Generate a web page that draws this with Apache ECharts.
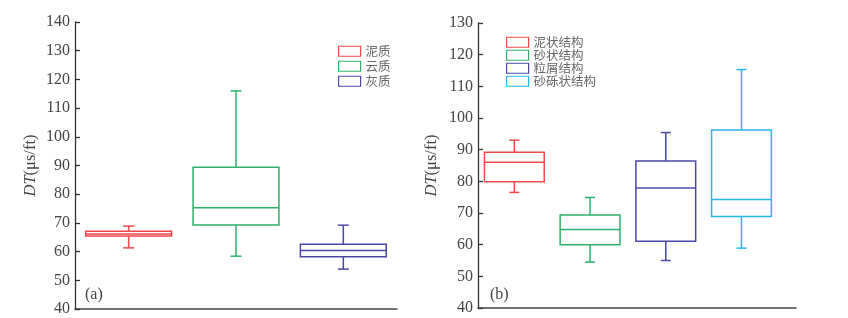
<!DOCTYPE html>
<html>
<head>
<meta charset="utf-8">
<script src="https://cdn.jsdelivr.net/npm/echarts@6/dist/echarts.min.js"></script>
<style>
html,body{margin:0;padding:0;background:#fff;}
#c{width:848px;height:318px;}
</style>
</head>
<body>
<div id="c"></div>
<script>
// ---- Panel (a) data ----
const leftCategories = ['泥质', '云质', '灰质'];
const leftColors = ['#f0474a', '#2fb06a', '#4a47a8'];
const leftMin = [61.3, 58.4, 53.9];
const leftQ1 = [65.4, 69.3, 58.2];
const leftMedian = [66.1, 75.3, 60.4];
const leftQ3 = [67.1, 89.4, 62.6];
const leftMax = [68.9, 116.0, 69.2];
const leftTicks = [40, 140, 10];

// ---- Panel (b) data ----
const rightCategories = ['泥状结构', '砂状结构', '粒屑结构', '砂砾状结构'];
const rightColors = ['#ef4a48', '#2fb06a', '#4a47a8', '#2ab4ee'];
const rightMin = [76.5, 54.5, 55.0, 58.9];
const rightQ1 = [79.9, 60.0, 61.1, 68.9];
const rightMedian = [86.0, 64.8, 77.9, 74.3];
const rightQ3 = [89.2, 69.4, 86.4, 96.2];
const rightMax = [93.0, 74.9, 95.4, 115.3];
const rightTicks = [40, 130, 10];

const serif = "'Liberation Serif','Times New Roman',serif";
const cjk = "'Noto Sans CJK SC',sans-serif";

function makeRender(color, boxFrac, capHalf) {
  return function (params, api) {
    const x = api.value(0);
    const vMin = api.value(1), q1 = api.value(2), med = api.value(3), q3 = api.value(4), vMax = api.value(5);
    const band = api.size([1, 0])[0];
    const half = band * boxFrac / 2;
    const pMin = api.coord([x, vMin]);
    const pQ1 = api.coord([x, q1]);
    const pMed = api.coord([x, med]);
    const pQ3 = api.coord([x, q3]);
    const pMax = api.coord([x, vMax]);
    const cx = pMed[0];
    const st = { stroke: color, lineWidth: 1.5, fill: null };
    const line = (x1, y1, x2, y2) => ({ type: 'line', shape: { x1, y1, x2, y2 }, style: st });
    return {
      type: 'group',
      children: [
        { type: 'rect', shape: { x: cx - half, y: pQ3[1], width: 2 * half, height: pQ1[1] - pQ3[1] }, style: { stroke: color, lineWidth: 1.5, fill: '#fff' } },
        line(cx - half, pMed[1], cx + half, pMed[1]),
        line(cx, pQ3[1], cx, pMax[1]),
        line(cx, pQ1[1], cx, pMin[1]),
        line(cx - capHalf, pMax[1], cx + capHalf, pMax[1]),
        line(cx - capHalf, pMin[1], cx + capHalf, pMin[1])
      ]
    };
  };
}

function buildSeries(cats, colors, mins, q1s, meds, q3s, maxs, gridIdx, boxFrac, capHalf) {
  return cats.map((name, i) => ({
    type: 'custom',
    name: name,
    xAxisIndex: gridIdx,
    yAxisIndex: gridIdx,
    encode: { x: 0, y: [1, 2, 3, 4, 5] },
    itemStyle: { color: '#fff', borderColor: colors[i] },
    renderItem: makeRender(colors[i], boxFrac, capHalf),
    data: [[i + 1, mins[i], q1s[i], meds[i], q3s[i], maxs[i]]],
    silent: true
  }));
}

function yAxisCfg(gridIdx, ticks, nameGap) {
  return {
    type: 'value',
    gridIndex: gridIdx,
    min: ticks[0], max: ticks[1], interval: ticks[2],
    name: '{it|DT}(μs/ft)',
    nameLocation: 'middle',
    nameRotate: 90,
    nameGap: nameGap,
    nameTextStyle: { fontFamily: serif, fontSize: 16.5, color: '#444', rich: { it: { fontStyle: 'italic', fontFamily: serif, fontSize: 16.5, color: '#444' } } },
    axisLine: { show: true, lineStyle: { color: '#333', width: 1.3 } },
    axisTick: { show: true, inside: true, length: 5, lineStyle: { color: '#333', width: 1.3 } },
    axisLabel: { fontFamily: serif, fontSize: 16, color: '#444', margin: 5 },
    splitLine: { show: false }
  };
}

function xAxisCfg(gridIdx, min, max) {
  return {
    type: 'value',
    gridIndex: gridIdx,
    min: min, max: max,
    axisLine: { show: true, onZero: false, lineStyle: { color: '#444', width: 1.5 } },
    axisTick: { show: false },
    axisLabel: { show: false },
    splitLine: { show: false }
  };
}

function legendCfg(cats, colors, left, top, gap) {
  return {
    left: left, top: top, orient: 'vertical', padding: 0,
    itemWidth: 22, itemHeight: 10, itemGap: gap,
    selectedMode: false,
    textStyle: { fontFamily: cjk, fontSize: 12.5, color: '#666', padding: [0, 0, 0, 0] },
    data: cats.map((c, i) => ({ name: c, icon: 'rect', itemStyle: { color: '#fff', borderColor: colors[i], borderWidth: 1.2 } }))
  };
}

const chart = echarts.init(document.getElementById('c'), null, { renderer: 'canvas' });
chart.setOption({
  animation: false,
  backgroundColor: '#fff',
  grid: [
    { left: 75, top: 22, width: 322, height: 287 },
    { left: 478, top: 23, width: 318, height: 285 }
  ],
  xAxis: [xAxisCfg(0, 0.5, 3.5), xAxisCfg(1, 0.52, 4.72)],
  yAxis: [yAxisCfg(0, leftTicks, 36), yAxisCfg(1, rightTicks, 38)],
  legend: [
    legendCfg(leftCategories, leftColors, 338, 45, 2.5),
    legendCfg(rightCategories, rightColors, 506, 36, 0.5)
  ],
  graphic: [
    { type: 'text', left: 85, top: 287, style: { text: '(a)', font: '16px ' + serif, fill: '#444' } },
    { type: 'text', left: 490, top: 287, style: { text: '(b)', font: '16px ' + serif, fill: '#444' } }
  ],
  series: [].concat(
    buildSeries(leftCategories, leftColors, leftMin, leftQ1, leftMedian, leftQ3, leftMax, 0, 0.8, 5.5),
    buildSeries(rightCategories, rightColors, rightMin, rightQ1, rightMedian, rightQ3, rightMax, 1, 0.79, 5)
  )
});
</script>
</body>
</html>
